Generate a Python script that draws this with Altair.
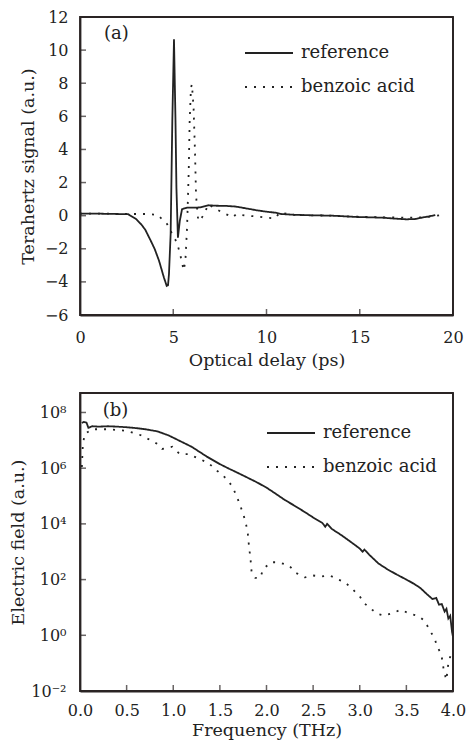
import altair as alt
import pandas as pd

# ---------------- data: panel (a) time domain ----------------
ref_t = [0.0, 1.0, 2.0, 2.58, 3.0, 3.28, 3.5, 3.8, 4.0, 4.24, 4.5, 4.65, 4.72, 4.77, 4.86, 4.95,
         5.04, 5.12, 5.17, 5.25, 5.35, 5.47, 5.74, 6.2, 6.44, 6.87, 7.3, 7.83, 8.35, 9.0, 9.5,
         10.0, 10.47, 10.8, 11.5, 12.5, 13.5, 14.86, 15.5, 16.2, 16.8, 17.5, 18.0, 18.4, 18.7, 19.05]
ref_v = [0.12, 0.12, 0.1, 0.09, -0.2, -0.52, -0.85, -1.53, -2.0, -2.73, -3.74, -4.24, -4.2, -3.54, -1.12, 5.72,
         10.65, 5.72, 1.69, -1.33, -0.32, 0.39, 0.49, 0.48, 0.5, 0.63, 0.6, 0.59, 0.55, 0.42, 0.32,
         0.24, 0.18, 0.1, 0.05, 0.02, 0.0, -0.08, -0.1, -0.12, -0.17, -0.22, -0.2, -0.1, -0.05, 0.04]

ba_t = [0.0, 1.5, 2.58, 3.1, 3.63, 4.16, 4.68, 4.95, 5.2, 5.37, 5.56, 5.65, 5.74, 5.83, 5.88, 5.95,
        6.0, 6.09, 6.17, 6.22, 6.3, 6.35, 6.53, 6.7, 6.87, 7.3, 7.83, 8.2, 8.37, 8.9, 9.5, 9.95,
        10.47, 10.7, 11.5, 12.5, 13.5, 14.5, 15.5, 16.5, 17.5, 18.5, 19.5]
ba_v = [0.12, 0.12, 0.1, 0.1, 0.1, 0.05, -0.52, -1.12, -1.63, -2.33, -3.3, -2.73, -0.72, 2.7, 5.72, 7.73,
        7.93, 6.52, 3.7, 1.29, 0.09, -0.32, -0.12, 0.18, 0.69, 0.39, 0.09, -0.1, 0.09, 0.0, -0.05, -0.12,
        -0.16, 0.18, 0.05, 0.02, 0.0, -0.05, -0.08, -0.1, -0.12, -0.1, 0.05]

# ---------------- data: panel (b) spectrum ----------------
ref_f = [0.02, 0.04, 0.07, 0.09, 0.13, 0.2, 0.3, 0.4, 0.5, 0.6, 0.7, 0.83, 0.95, 1.1, 1.2, 1.36,
         1.5, 1.6, 1.68, 1.89, 2.0, 2.1, 2.2, 2.3, 2.4, 2.5, 2.6, 2.63, 2.65, 2.7, 2.8, 2.9, 3.0,
         3.03, 3.05, 3.1, 3.2, 3.3, 3.4, 3.5, 3.58, 3.65, 3.72, 3.78, 3.82, 3.85, 3.88, 3.91, 3.93,
         3.95, 3.97, 3.99, 4.0]
ref_e = [4.2e7, 4.6e7, 4.3e7, 2.8e7, 3.2e7, 3.1e7, 3.2e7, 3.1e7, 2.95e7, 2.75e7, 2.5e7, 2.1e7, 1.5e7,
         8.5e6, 5.8e6, 2.6e6, 1.4e6, 9.5e5, 7.1e5, 3.2e5, 2.0e5, 1.2e5, 7.1e4, 4.5e4, 2.8e4, 1.7e4,
         1.07e4, 7.9e3, 1.0e4, 6.6e3, 4.0e3, 2.3e3, 1.3e3, 1.0e3, 1.2e3, 7.9e2, 3.8e2, 2.3e2, 1.5e2,
         1.0e2, 71, 50, 30, 20, 22, 12.6, 13.2, 7.1, 8.9, 4.0, 5.0, 1.3, 0.87]

ba_f = [0.02, 0.03, 0.05, 0.13, 0.3, 0.5, 0.66, 0.83, 0.88, 0.99, 1.07, 1.16, 1.29, 1.38, 1.47, 1.56,
        1.63, 1.68, 1.75, 1.78, 1.8, 1.81, 1.83, 1.84, 1.88, 1.93, 1.97, 2.05, 2.13, 2.24, 2.32, 2.41,
        2.5, 2.59, 2.68, 2.75, 2.84, 2.93, 3.0, 3.05, 3.12, 3.19, 3.26, 3.35, 3.44, 3.54, 3.63, 3.7,
        3.75, 3.8, 3.83, 3.87, 3.89, 3.9, 3.92, 3.93, 3.94, 3.95, 3.97, 3.99]
ba_e = [1.1e6, 6.5e6, 1.7e7, 2.5e7, 2.5e7, 2.2e7, 1.5e7, 7.4e6, 4.9e6, 5.9e6, 3.2e6, 3.2e6, 2.1e6,
        1.5e6, 8.1e5, 4.5e5, 2.3e5, 1.0e5, 2.3e4, 1.0e4, 4.4e3, 1.9e3, 4.8e2, 1.9e2, 1.15e2, 1.15e2,
        2.5e2, 4.2e2, 4.2e2, 3.2e2, 1.7e2, 1.2e2, 1.4e2, 1.3e2, 1.4e2, 1.07e2, 81, 43, 25, 14, 8.9,
        5.9, 5.1, 6.2, 8.3, 5.9, 4.9, 3.2, 1.5, 0.81, 0.4, 0.22, 0.11, 0.055, 0.032, 0.025, 0.055,
        0.095, 0.17, 0.3]

series_names = ["reference", "benzoic acid"]
panel_labels = ["(a)", "(b)"]
label_pos_a = [1.95, 11.0]
label_pos_b = [0.38, 1.15e8]

xa_vals = [0, 5, 10, 15, 20]
ya_vals = [-6, -4, -2, 0, 2, 4, 6, 8, 10, 12]
xa_dom = [0, 20]
ya_dom = [-6, 12]
xb_vals = [0, 0.5, 1.0, 1.5, 2.0, 2.5, 3.0, 3.5, 4.0]
yb_vals = [1e-2, 1e0, 1e2, 1e4, 1e6, 1e8]
xb_dom = [0, 4]
yb_dom = [1e-2, 5e8]

FONT = "DejaVu Serif"
INK = "#222222"
FRAME = "#2a2424"
TXT = "#222222"
FS = 16
TFS = 17.5
W, H = 373, 298


def make_panel(xs, ys, names, xdom, ydom, xvals, yvals, xtitle, ytitle, plab, ppos,
               legx, legy, xlp, xtp, ylp, ytp, ylog=False, xfmt="d", ylabexpr=None):
    df = pd.concat([
        pd.DataFrame({"x": xs[0], "y": ys[0], "s": names[0], "o": range(len(xs[0]))}),
        pd.DataFrame({"x": xs[1], "y": ys[1], "s": names[1], "o": range(len(xs[1]))}),
    ])
    xsc = alt.Scale(domain=xdom, nice=False, zero=False)
    ysc = alt.Scale(type="log", domain=ydom, nice=False) if ylog else alt.Scale(domain=ydom, nice=False, zero=False)

    xax = dict(orient="bottom", values=xvals, tickCount=40, labelFlush=False, labelOverlap=False,
               ticks=False, domain=True, domainColor=FRAME, domainWidth=1.8, grid=False, format=xfmt,
               labelFont=FONT, labelFontSize=FS, labelColor=TXT, labelPadding=xlp,
               titleFont=FONT, titleFontSize=TFS, titleFontWeight="normal", titleColor=TXT,
               titlePadding=xtp, title=xtitle)
    yax = dict(orient="left", values=yvals, tickCount=40, labelFlush=False, labelOverlap=False,
               ticks=False, domain=True, domainColor=FRAME, domainWidth=1.8, grid=False,
               labelFont=FONT, labelFontSize=FS, labelColor=TXT, labelPadding=ylp,
               titleFont=FONT, titleFontSize=TFS, titleFontWeight="normal", titleColor=TXT,
               titlePadding=ytp, title=ytitle)
    if ylabexpr:
        yax["labelExpr"] = ylabexpr
    else:
        yax["format"] = "d"

    lines = alt.Chart(df).mark_line(color=INK, strokeWidth=1.8, strokeCap="butt").encode(
        x=alt.X("x:Q", scale=xsc, axis=alt.Axis(**xax)),
        y=alt.Y("y:Q", scale=ysc, axis=alt.Axis(**yax)),
        strokeDash=alt.StrokeDash(
            "s:N",
            scale=alt.Scale(domain=names, range=[[1, 0], [2, 7]]),
            legend=alt.Legend(title=None, orient="none", symbolType="M-1,0H1", symbolSize=2304,
                              symbolStrokeWidth=1.8, symbolStrokeColor=INK, labelFont=FONT,
                              labelFontSize=18, labelColor=TXT, labelOffset=7,
                              rowPadding=-4, padding=0, legendX=legx, legendY=legy),
        ),
        order="o:Q",
    )
    # frame: top and right edges drawn through the scales (left/bottom come from axis domains)
    top_edge = alt.Chart(pd.DataFrame({"x": [xdom[0]], "x2": [xdom[1]], "y": [ydom[1]]})).mark_rule(
        color=FRAME, strokeWidth=1.8).encode(
        x=alt.X("x:Q", scale=xsc), x2="x2:Q", y=alt.Y("y:Q", scale=ysc))
    right_edge = alt.Chart(pd.DataFrame({"x": [xdom[1]], "y": [ydom[0]], "y2": [ydom[1]]})).mark_rule(
        color=FRAME, strokeWidth=1.8).encode(
        x=alt.X("x:Q", scale=xsc), y=alt.Y("y:Q", scale=ysc), y2="y2:Q")
    # inward ticks: short tick marks centred on the frame edge, clipped to the plot
    xt = alt.Chart(pd.DataFrame({"x": xvals, "y": [ydom[0]] * len(xvals)})).mark_tick(
        orient="vertical", size=12, thickness=1.5, color=FRAME, clip=True).encode(
        x=alt.X("x:Q", scale=xsc), y=alt.Y("y:Q", scale=ysc))
    yt = alt.Chart(pd.DataFrame({"x": [xdom[0]] * len(yvals), "y": yvals})).mark_tick(
        orient="horizontal", size=12, thickness=1.5, color=FRAME, clip=True).encode(
        x=alt.X("x:Q", scale=xsc), y=alt.Y("y:Q", scale=ysc))
    lab = alt.Chart(pd.DataFrame({"x": [ppos[0]], "y": [ppos[1]], "lab": [plab]})).mark_text(
        font=FONT, fontSize=18, color=TXT).encode(
        x=alt.X("x:Q", scale=xsc), y=alt.Y("y:Q", scale=ysc), text="lab:N")
    return alt.layer(lines, top_edge, right_edge, xt, yt, lab).properties(width=W, height=H)


sup_expr = ("datum.value >= 1e8 ? '10⁸' : datum.value >= 1e6 ? '10⁶' : datum.value >= 1e4 ? '10⁴' : "
            "datum.value >= 1e2 ? '10²' : datum.value >= 1 ? '10⁰' : '10⁻²'")

panel_a = make_panel([ref_t, ba_t], [ref_v, ba_v], series_names, xa_dom, ya_dom, xa_vals, ya_vals,
                     "Optical delay (ps)", "Terahertz signal (a.u.)", panel_labels[0], label_pos_a,
                     164, 11, 14, 6, 12, 7)
panel_b = make_panel([ref_f, ba_f], [ref_e, ba_e], series_names, xb_dom, yb_dom, xb_vals, yb_vals,
                     "Frequency (THz)", "Electric field (a.u.)", panel_labels[1], label_pos_b,
                     186, 15, 11, 3, 14, 3, ylog=True, xfmt=".1f", ylabexpr=sup_expr)

chart = alt.vconcat(panel_a, panel_b, spacing=21).resolve_scale(
    strokeDash="independent").resolve_legend(strokeDash="independent").configure_view(
    stroke=FRAME, strokeWidth=1.8).properties(
    padding={"left": 0, "top": 0, "right": 0, "bottom": 0}, background="white")

chart.save("out.html", embed_options={"renderer": "svg", "actions": False})
